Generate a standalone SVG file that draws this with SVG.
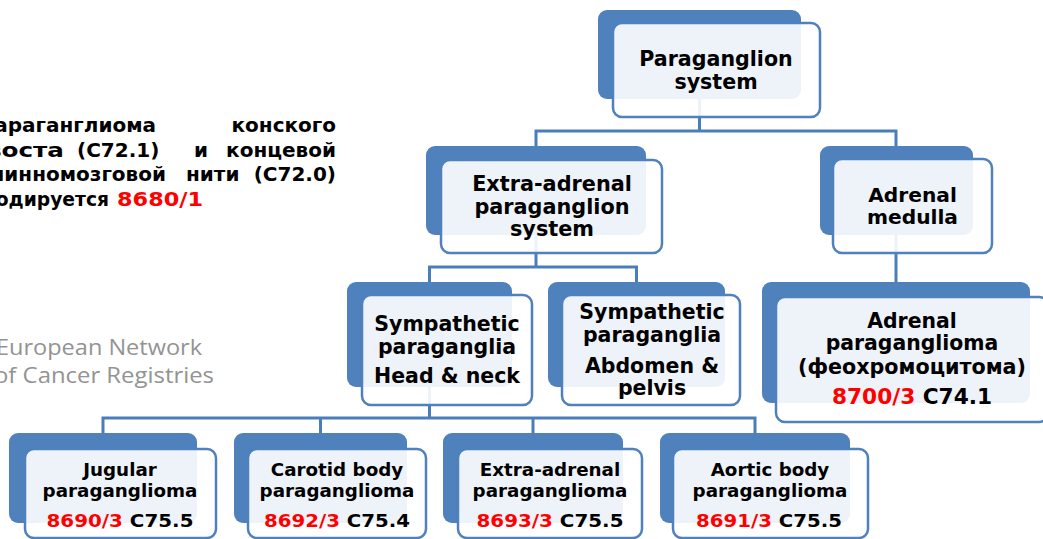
<svg xmlns="http://www.w3.org/2000/svg" width="1043" height="539" viewBox="0 0 1043 539">
<style>
.back{fill:#4f81bd}
.front{fill:#ffffff;fill-opacity:0.9;stroke:#4f81bd;stroke-width:2.5}
.t{font-family:"DejaVu Sans","Verdana",sans-serif;font-weight:bold;fill:#000;text-anchor:middle}
.red{fill:#ff0000}
.ru{font-family:"DejaVu Sans","Verdana",sans-serif;font-weight:bold;font-size:20px;fill:#000}
.logo{font-family:"Open Sans","Liberation Sans",sans-serif;font-weight:400;font-size:22px;fill:#939393}
.conn{fill:none;stroke:#4a7ebb;stroke-width:3}
</style>
<rect width="1043" height="539" fill="#ffffff"/>

<g id="ru-text" class="ru">
<text x="156" y="132" text-anchor="end">Параганглиома</text>
<text x="336" y="132" text-anchor="end">конского</text>
<text x="-30" y="157" textLength="94" lengthAdjust="spacingAndGlyphs">хвоста</text>
<text x="77" y="157">(C72.1)</text>
<text x="194" y="157">и</text>
<text x="336" y="157" text-anchor="end">концевой</text>
<text x="166" y="181" text-anchor="end">спинномозговой</text>
<text x="186" y="181">нити</text>
<text x="336" y="181" text-anchor="end">(C72.0)</text>
<text x="-17" y="206" textLength="126" lengthAdjust="spacingAndGlyphs">кодируется</text>
<text x="117" y="206" class="red" textLength="86" lengthAdjust="spacingAndGlyphs">8680/1</text>
</g>

<g id="logo" class="logo">
<text x="-4" y="355" textLength="206" lengthAdjust="spacingAndGlyphs">European Network</text>
<text x="-6" y="383" textLength="220" lengthAdjust="spacingAndGlyphs">of Cancer Registries</text>
</g>

<g id="connectors" class="conn">
<path d="M699.5,99 V131 M536,146 V131 H896 V146"/>
<path d="M536,235 V267 M429.5,282 V267 H636.5 V282"/>
<path d="M896,235 V282"/>
<path d="M429.5,387 V418 M103,433 V418 H755 V433 M320.5,418 V433 M533,418 V433"/>
</g>

<g id="n-paraganglion">
<rect class="back" x="598" y="10" width="203" height="89" rx="9"/>
<rect class="front" x="613" y="23" width="207" height="94" rx="9"/>
<text class="t" font-size="20.6" x="716" y="66">Paraganglion</text>
<text class="t" font-size="20.6" x="716" y="89">system</text>
</g>

<g id="n-extra-adrenal">
<rect class="back" x="426" y="146" width="220" height="89" rx="9"/>
<rect class="front" x="441" y="160" width="221" height="93" rx="9"/>
<text class="t" font-size="20.8" x="552" y="191">Extra-adrenal</text>
<text class="t" font-size="20.8" x="552" y="214">paraganglion</text>
<text class="t" font-size="20.8" x="552" y="236">system</text>
</g>

<g id="n-adrenal-medulla">
<rect class="back" x="820" y="146" width="153" height="89" rx="9"/>
<rect class="front" x="833" y="159" width="159" height="94" rx="9"/>
<text class="t" font-size="20.2" x="912.5" y="202">Adrenal</text>
<text class="t" font-size="20.2" x="912.5" y="224">medulla</text>
</g>

<g id="n-head-neck">
<rect class="back" x="347" y="282" width="165" height="105" rx="9"/>
<rect class="front" x="362" y="295" width="170" height="110" rx="9"/>
<text class="t" font-size="20.5" x="447" y="331">Sympathetic</text>
<text class="t" font-size="20.5" x="447" y="354">paraganglia</text>
<text class="t" font-size="20.5" x="447" y="383">Head &amp; neck</text>
</g>

<g id="n-abdomen-pelvis">
<rect class="back" x="548" y="282" width="177" height="105" rx="9"/>
<rect class="front" x="562" y="295" width="178" height="110" rx="9"/>
<text class="t" font-size="20.5" x="652" y="318.5">Sympathetic</text>
<text class="t" font-size="20.5" x="652" y="341.5">paraganglia</text>
<text class="t" font-size="20.5" x="652" y="372.5">Abdomen &amp;</text>
<text class="t" font-size="20.5" x="652" y="394.5">pelvis</text>
</g>

<g id="n-adrenal-pgl">
<rect class="back" x="762" y="282" width="268" height="121" rx="9"/>
<rect class="front" x="776" y="297" width="272" height="125" rx="9"/>
<text class="t" font-size="20.4" x="912" y="328">Adrenal</text>
<text class="t" font-size="20.4" x="912" y="350">paraganglioma</text>
<text class="t" font-size="20.4" x="912" y="374" textLength="228" lengthAdjust="spacingAndGlyphs">(феохромоцитома)</text>
<text class="t" font-size="20.4" x="912" y="403.5" textLength="160" lengthAdjust="spacingAndGlyphs"><tspan class="red">8700/3</tspan> C74.1</text>
</g>

<g id="n-jugular">
<rect class="back" x="9" y="433" width="188" height="90" rx="9"/>
<rect class="front" x="25" y="449" width="191" height="89" rx="9"/>
<text class="t" font-size="18.3" x="120" y="476">Jugular</text>
<text class="t" font-size="18.3" x="120" y="497">paraganglioma</text>
<text class="t" font-size="18.3" x="120" y="526.5" textLength="147" lengthAdjust="spacingAndGlyphs"><tspan class="red">8690/3</tspan> C75.5</text>
</g>

<g id="n-carotid">
<rect class="back" x="234" y="433" width="173" height="90" rx="9"/>
<rect class="front" x="248" y="449" width="178" height="89" rx="9"/>
<text class="t" font-size="18.3" x="337" y="476">Carotid body</text>
<text class="t" font-size="18.3" x="337" y="497">paraganglioma</text>
<text class="t" font-size="18.3" x="337" y="526.5" textLength="146" lengthAdjust="spacingAndGlyphs"><tspan class="red">8692/3</tspan> C75.4</text>
</g>

<g id="n-extra-pgl">
<rect class="back" x="443" y="433" width="180" height="90" rx="9"/>
<rect class="front" x="458" y="449" width="184" height="89" rx="9"/>
<text class="t" font-size="18.3" x="550" y="476">Extra-adrenal</text>
<text class="t" font-size="18.3" x="550" y="497">paraganglioma</text>
<text class="t" font-size="18.3" x="550" y="526.5" textLength="147" lengthAdjust="spacingAndGlyphs"><tspan class="red">8693/3</tspan> C75.5</text>
</g>

<g id="n-aortic">
<rect class="back" x="660" y="433" width="190" height="90" rx="9"/>
<rect class="front" x="673" y="449" width="195" height="89" rx="9"/>
<text class="t" font-size="18.3" x="770" y="476">Aortic body</text>
<text class="t" font-size="18.3" x="770" y="497">paraganglioma</text>
<text class="t" font-size="18.3" x="769" y="526.5" textLength="146" lengthAdjust="spacingAndGlyphs"><tspan class="red">8691/3</tspan> C75.5</text>
</g>
</svg>
